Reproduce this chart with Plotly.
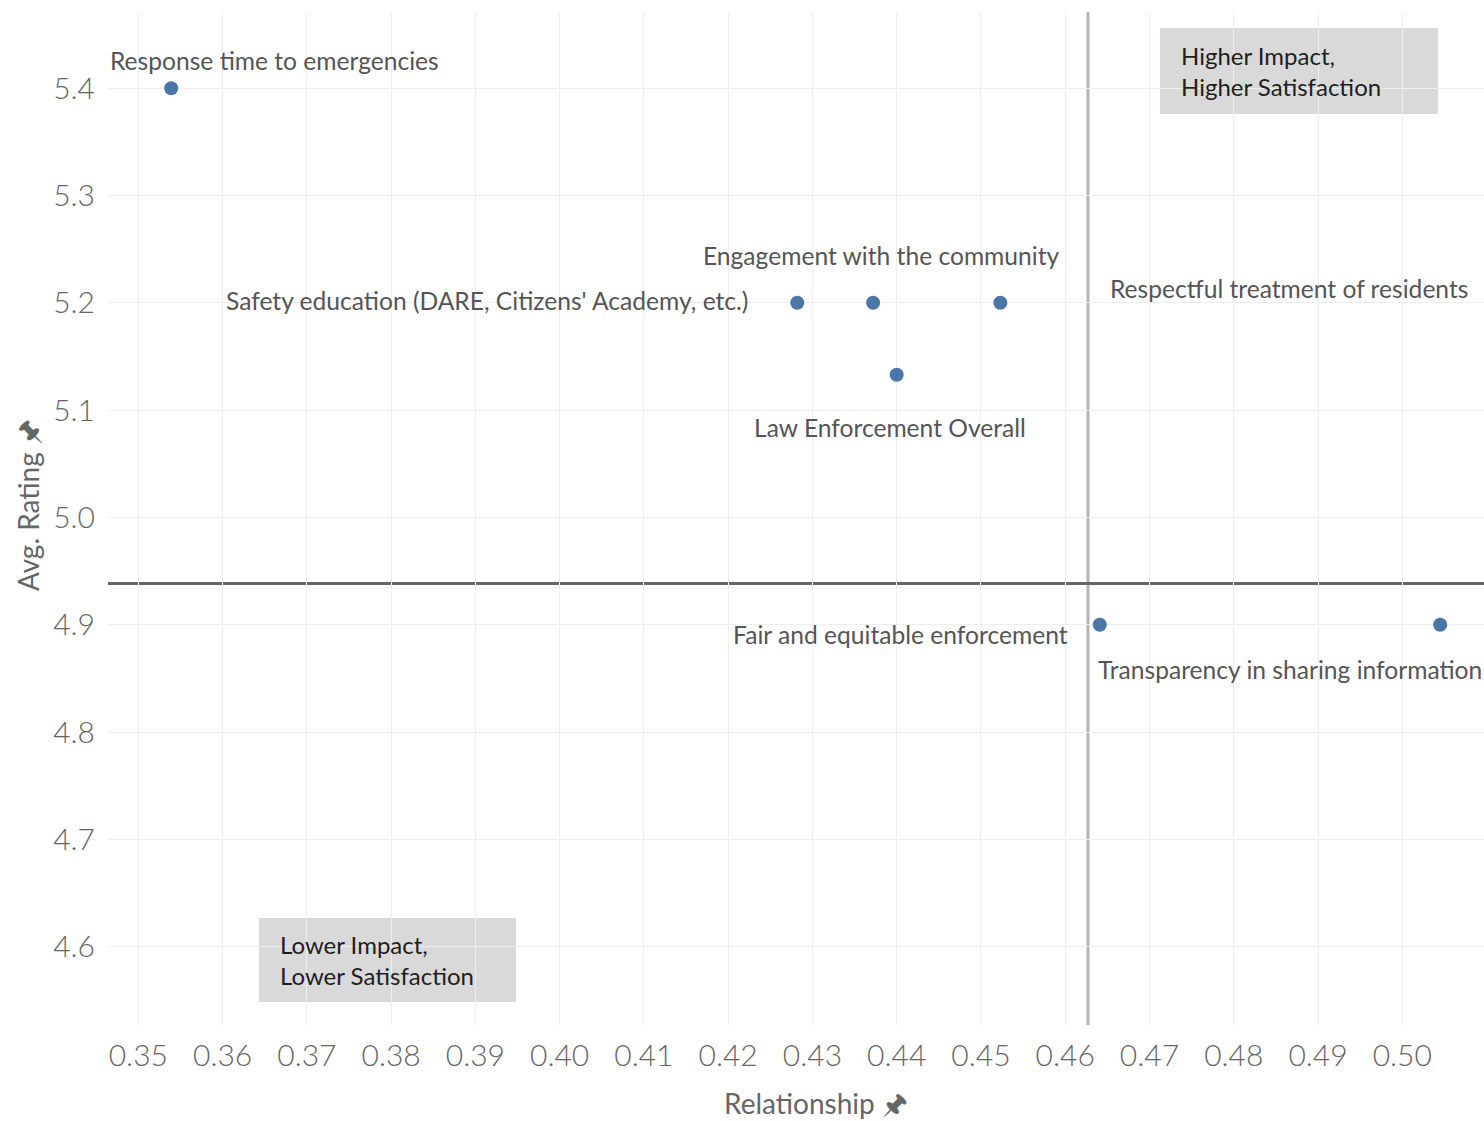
import plotly.graph_objects as go

# Data
labels = [
    "Response time to emergencies",
    "Safety education (DARE, Citizens' Academy, etc.)",
    "Engagement with the community",
    "Respectful treatment of residents",
    "Law Enforcement Overall",
    "Fair and equitable enforcement",
    "Transparency in sharing information",
]
relationship = [0.3539, 0.4282, 0.4372, 0.4523, 0.4400, 0.4641, 0.5045]
avg_rating = [5.40, 5.20, 5.20, 5.20, 5.133, 4.90, 4.90]

ref_relationship = 0.4627
ref_rating = 4.9385

# label placement (anchor, xshift, yshift)
label_pos = [
    ("left", -63, 28),
    ("right", -47, 2),
    ("center", 8, 47),
    ("left", 108, 14),
    ("center", -7, -53),
    ("right", -30, -10),
    ("left", -344, -45),
]

FONT = "Lato"
TEXT = "#555555"

fig = go.Figure()
fig.add_trace(go.Scatter(
    x=relationship, y=avg_rating, mode="markers",
    marker=dict(size=14, color="#4a76a8"),
    cliponaxis=False, hoverinfo="skip", showlegend=False,
))

# reference lines
fig.add_shape(type="line", xref="x", yref="paper", x0=ref_relationship, x1=ref_relationship,
              y0=0, y1=1, line=dict(color="#b3b3b3", width=3), layer="below")
fig.add_shape(type="line", xref="paper", yref="y", x0=0, x1=1, y0=ref_rating, y1=ref_rating,
              line=dict(color="#666666", width=3), layer="below")

for lab, xv, yv, (anc, dx, dy) in zip(labels, relationship, avg_rating, label_pos):
    fig.add_annotation(x=xv, y=yv, text=lab, showarrow=False, xanchor=anc, yanchor="middle",
                       xshift=dx, yshift=dy, font=dict(family=FONT, size=24.6, color=TEXT))

# quadrant boxes
fig.add_shape(type="rect", xref="paper", yref="paper", x0=0.7645, x1=0.9666, y0=0.8993, y1=0.9842,
              fillcolor="#d9d9d9", line=dict(width=0), layer="below")
fig.add_annotation(xref="paper", yref="paper", x=0.7781, y=0.9418, xanchor="left", yanchor="middle",
                   text="Higher Impact,<br>Higher Satisfaction", align="left", showarrow=False,
                   font=dict(family=FONT, size=24, color="#1e1e1e"))
fig.add_shape(type="rect", xref="paper", yref="paper", x0=0.1097, x1=0.2965, y0=0.0227, y1=0.1056,
              fillcolor="#d9d9d9", line=dict(width=0), layer="below")
fig.add_annotation(xref="paper", yref="paper", x=0.1233, y=0.0642, xanchor="left", yanchor="middle",
                   text="Lower Impact,<br>Lower Satisfaction", align="left", showarrow=False,
                   font=dict(family=FONT, size=24, color="#1e1e1e"))

# axis titles
fig.add_annotation(xref="paper", yref="paper", x=0.5145, y=-0.077, xanchor="center", yanchor="middle",
                   text="Relationship \U0001F588", showarrow=False,
                   font=dict(family=FONT, size=28, color="#666666"))
fig.add_annotation(xref="paper", yref="paper", x=-0.0581, y=0.5133, xanchor="center", yanchor="middle",
                   text="Avg. Rating \U0001F588", showarrow=False, textangle=-90,
                   font=dict(family=FONT, size=28, color="#666666"))

fig.update_layout(
    width=1484, height=1121,
    margin=dict(l=108, r=0, t=12, b=96),
    paper_bgcolor="white", plot_bgcolor="white",
    font=dict(family=FONT, color="#666666"),
    xaxis=dict(range=[0.3464, 0.5097], dtick=0.01, tick0=0, tickformat=".2f",
               showgrid=True, gridcolor="#eeeeee", gridwidth=1, zeroline=False,
               showline=False, ticks="", tickfont=dict(family=FONT, size=30, color="#666666", weight=300),
               ticklabelstandoff=10),
    yaxis=dict(range=[4.527, 5.471], dtick=0.1, tick0=0, tickformat=".1f",
               showgrid=True, gridcolor="#eeeeee", gridwidth=1, zeroline=False,
               showline=False, ticks="", tickfont=dict(family=FONT, size=30, color="#666666", weight=300),
               ticklabelstandoff=12),
)

fig.write_html("out.html", config={"displayModeBar": False},
               post_script="document.body.style.margin='0';document.body.style.overflow='hidden';")
